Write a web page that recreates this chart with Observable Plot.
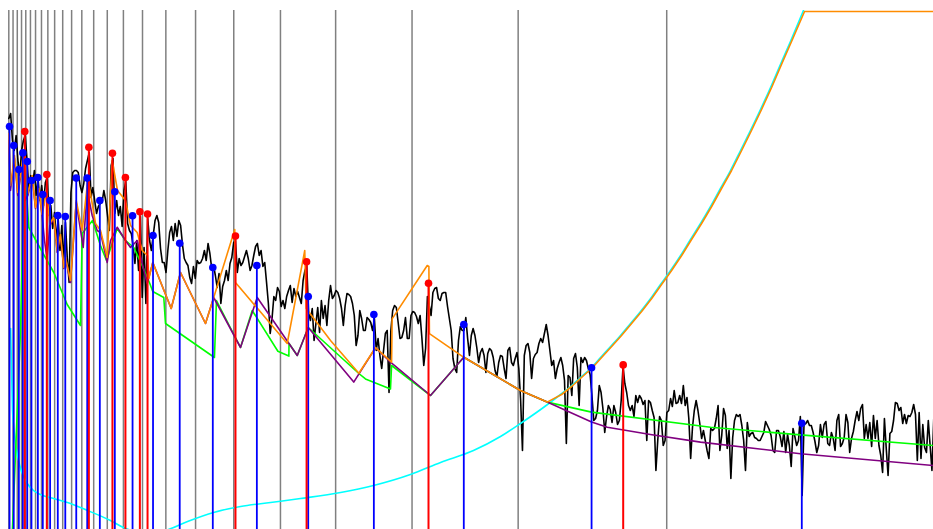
<!DOCTYPE html>
<html><head><meta charset="utf-8">
<script src="https://cdn.jsdelivr.net/npm/d3@7"></script>
<script src="https://cdn.jsdelivr.net/npm/@observablehq/plot@0.6"></script>
<style>html,body{margin:0;padding:0;background:#fff;overflow:hidden}svg{display:block}</style>
</head><body><div id="chart"></div>
<script>
// FFT grid: bin index k -> frequency k * sampleRate / fftSize
const sampleRate = 44100, fftSize = 1024;

// Critical band edges (Hz), drawn as grey verticals
const barkEdgesHz = [0,100,200,300,400,510,630,770,920,1080,1270,1480,1720,2000,2320,2700,3150,3700,4400,5300,6400,7700,9500,12000,15500];

// Power spectrum (dB) per bin
const spectrumDb = [
103,104.25,97.5,95,98.75,92.5,88.75,95,97.5,98.75,92.5,85,88.75,86.25,90,83.75,88,82.5,86.25,81.25,87,88.25,78.75,81.25,75.5,79.5,72.5,78,70,76.25,67,77,68,62,84.5,89.5,90,90,89.5,86.25,84.5,
86.75,90.5,92.5,94.5,83.25,85.75,82.5,79.25,81,81.75,82,85,82.5,78.75,75,91.25,93,79.25,82.5,78.75,81,76,85,87.25,76.75,75,74.25,71.25,66.75,72.5,65,78.5,58.25,70.75,56.75,78,72.5,70,73.75,77.5,
78.75,77,70.5,67,67,64.5,70,74.5,76,72.5,
76.75,73.5,77.5,76.25,71.5,68,67,66.25,63.25,61.75,
66,63,67.5,66.75,67,68,70,67.5,71.75,69.25,
65.5,66.25,63.75,60.75,64.25,56.75,61,62.5,65,62.5,
66.75,68.25,72,72.5,64.5,68,66.25,67,68.5,70,
68,65,66.25,68.75,71,71.75,68.75,70,66,67,
62,56.75,49.25,53,58.5,57.5,60.75,59.75,56,57.5,
55.5,58.5,60,61.25,57,60.5,58.5,59.75,58.25,56.75,
62.5,65,66.25,54.5,52.5,55.5,47.5,51.75,55.75,49.5,
57.5,53,56.25,51.25,57.5,61.25,58,58.75,60,59.5,
58,55.5,51.25,56.25,59.25,59,58.5,56.75,53.75,46.25,
48.75,55,53,50,50,53.25,52.75,52,50,53,
45,48,43.75,40.5,45,49.25,50,34.5,50,55,
56.25,55.75,52,48,48.25,50,53.25,48,48,53.75,
54.75,54.5,53.5,51.75,53.75,48,41.25,45.5,58.5,56.25,
53.75,59.5,60.5,60.75,58,57.5,59.25,59.5,59.5,56,
53,50,43,40.5,39.5,47.5,51,50,50,53.25,
48,43.75,48.75,50.5,48.75,45.75,42,44.5,45.5,43.75,
39.5,44.25,45.5,45,43.25,40,38.5,42,43.75,43.5,
40.5,38,45,45.75,42,41.25,43,44.5,40.5,32.5,
20,43.75,46.25,46.75,44.5,38,43,44,44.5,46.75,
48,47,49.25,51.5,48.75,45,41.25,42.5,38,40.5,
42,43.25,41.25,37.5,21.75,38.75,38.25,33.75,43,44.25,
40.75,31.25,43.25,42,43.25,42.5,40.5,39,33.75,27.5,
28,30,36.25,34.5,30.5,24.5,28.5,31.25,30.25,27,
31.25,29.5,26.5,27.5,32.5,41,36.75,34.5,31.25,30,
31.25,28.5,33.75,32,33.75,33,31.5,32.5,22.5,32.5,
32,30,28.25,15,22.5,28.5,27.5,21.25,22.5,29.5,
30,33,31,35,31.75,32,33.75,31.75,36.25,31.25,
33.25,28,18,25.75,30,32.5,30,26.75,23,25,
22.5,20,18,25.5,25,25.5,28,31.25,20,23.75,
30.5,28.75,20.5,25,13,23.25,27.5,29,28.5,29,
26.25,22.5,15,27,23.5,24.25,24.5,23.25,23,22.5,
22.5,23.5,24.5,27.25,26.25,25.25,23.75,20,19.5,25,
25,23.5,21,24.75,19.5,24,21.25,16,25.5,23.5,
21.25,22.5,28.5,8.75,26.5,26.75,27.5,26.25,26.25,24.5,
22.25,19.5,21.25,26.5,23.25,26.5,27.25,21.75,21.25,24.5,
23,20,27.5,29,21,21.75,23.25,29,27,19.5,
23,24.75,27.5,29.75,27.5,30.5,31.5,23,26.5,23,
27,21,28.75,23,27.5,21.25,18.75,14.5,28,20.5,
13.75,24.25,24.75,27.5,32,31.75,30,30.75,26.75,29,
26.75,28.75,28.5,29.5,31.5,29,17.5,29.5,18,26.5,
20.75,19.5,27.5,21.25,15,28,28.25
];

// Tonal maskers (red) and non-tonal maskers (blue): bin position, level dB
const tonalBin = [8.75,20.8,43.8,56.7,63.8,71.7,75.9,124.0,162.9,229.6,336.1];
const tonalDb  = [99.75,89,95.8,94.3,88.25,79.7,79.1,73.6,67.2,61.8,41.4];
const nonTonalBin = [0.4,2.7,5.5,7.7,10.1,12.4,15.9,18.6,22.6,26.8,30.9,36.9,42.9,49.8,58.0,67.7,78.9,93.5,111.6,135.7,163.8,199.7,248.9,318.8,433.8];
const nonTonalDb  = [101,96.25,90.25,94.4,92.25,87.5,88.25,84,82.5,78.75,78.5,88.1,88.1,82.5,84.7,78.7,73.75,71.8,65.75,66.25,58.5,54,51.5,40.7,26.8];

// Absolute threshold of hearing (cyan): [bin, dB]
const absThreshold = [[1,50.5],[2,30.5],[3,24.5],[4,20.75],[6,16.25],[8,13.5],[10.1,11.75],[13.5,10],[17.3,9],[24.5,8],[32.1,7],[43.1,5],[55.6,2.5],[62.7,0.75],[72,-0.5],[78.1,-0.75],[85.7,0],[97.8,2.25],[112,4.5],[126.8,6],[143.2,7],[159.6,8],[181.5,9.5],[199.5,11.25],[219.7,14],[236.2,17],[254.2,20],[269,23.5],[279.9,26.75],[294.7,31.5],[301.8,34],[307.3,36],[312.7,38.25],[318.8,40.75],[323.7,43.25],[329.2,46],[334.6,48.75],[340.1,51.75],[345.6,54.75],[351.1,58],[356.5,61.5],[362,65],[367.5,68.75],[372.9,72.75],[378.4,76.75],[383.9,81],[389.3,85.5],[394.8,90],[400.3,95],[405.7,100],[411.2,105.25],[416.7,110.75],[422.1,116.5],[427.6,122.25],[434.7,130],[441.8,138],[449.5,147.5]];

// Orange threshold curve: [bin, dB]
const orangeCurve = [[0,99.25],[0.93,86.25],[3.12,93.75],[4.92,84.5],[7.33,92],[8.59,95],[10.39,84.25],[12.8,88.75],[14.6,80.75],[16.41,85.5],[18.27,79],[20.62,85],[22.43,76.75],[24.62,78.25],[26.48,70],[28.28,74],[30.09,65.75],[31.02,68.25],[33.75,62.5],[36.87,82.5],[40.15,75],[43.33,88],[47.43,76.75],[50.16,75],[53.83,68.25],[56.56,92.5],[59.46,85],[63.84,82.5],[66.58,76.25],[70.24,74.5],[72.98,70],[75.88,68.75],[76.59,63],[78.77,67],[88.84,55.5],[93.93,64.5],[107.6,51.75],[112.1,58.25],[123.6,75.25],[124.0,62],[152.3,46.75],[161.9,70],[162.7,55.5],[176.0,47.5],[191.5,39.3],[200.6,45.7],[209.4,42.1],[209.7,52.9],[228.9,66.25],[229.8,66],[230.1,49.2],[248.9,43.3],[279.9,35],[294.5,32.1],[302.4,34],[307.9,36],[313.3,38.25],[319.4,40.75],[324.3,43.25],[329.8,46],[335.2,48.75],[340.7,51.75],[346.2,54.75],[351.7,58],[357.1,61.5],[362.6,65],[368.1,68.75],[373.5,72.75],[379,76.75],[384.5,81],[389.9,85.5],[395.4,90],[400.9,95],[406.3,100],[411.8,105.25],[417.3,110.75],[422.7,116.5],[428.2,122.25],[435.3,129.75],[505.9,129.75]];

// Purple threshold curve: [bin, dB]
const purpleCurve = [[0,97.5],[0.93,85],[3.12,93],[4.92,83.75],[7.33,91.25],[8.86,82.5],[10.39,83.75],[12.8,88.25],[14.6,80.5],[16.41,85],[18.27,78.5],[19.53,72.5],[20.9,68],[22.43,76.25],[24.62,78],[26.48,69.5],[28.28,73.5],[30.09,65.5],[31.02,68],[33.75,62],[36.87,82],[40.7,70.75],[42.89,85],[45.62,78.75],[48.36,75],[50.16,74.5],[53.83,67],[55.63,72.5],[59.3,75.8],[63.84,72.5],[66.58,70.75],[70.24,72.5],[72.98,66.75],[75.71,61.75],[78.77,67],[88.84,55.5],[93.93,64.5],[107.6,51.75],[112.1,58.25],[126.75,45.75],[135.9,58.25],[157.8,43.75],[163.8,50.75],[188.7,37.1],[200.6,45.7],[208.8,42.1],[230.7,33.75],[248.9,43.3],[279.9,35],[294.5,32.1],[318.8,27.1],[327.4,25.8],[351.0,24],[378.4,22.1],[433.1,19.2],[505.9,16.25]];

// Green threshold curve: [bin, dB]
const greenCurve = [[1.86,-1.25],[6.4,50],[8.59,92],[10.94,75.75],[19.69,68.5],[24.62,64.5],[31.95,56.5],[39.22,51.25],[40.15,74.25],[45.8,77.5],[50.16,71.25],[53.45,67.5],[59.3,75.5],[63.84,72.5],[68.38,70.75],[72.98,66.25],[77.13,61.75],[78.77,59.75],[84.79,58.25],[85.72,51.75],[112.5,43.25],[113.6,57.5],[126.75,45.75],[133.15,55],[147.2,44.8],[153.2,43.6],[153.3,46.75],[157.8,43.75],[163.8,50.75],[191.5,39.25],[195.1,37.9],[208.8,35.4],[209.4,41.25],[230.7,33.75],[248.9,43.3],[279.9,35],[294.5,32.1],[318.8,29.6],[383.9,25.8],[433.1,23.9],[505.9,21.25]];

const binHz = sampleRate / fftSize;
const spectrum = spectrumDb.map((db, k) => ({bin: k, db}));
const pts = a => a.map(([bin, db]) => ({bin, db}));
const tonal = tonalBin.map((b, i) => ({bin: b, db: tonalDb[i]}));
const nonTonal = nonTonalBin.map((b, i) => ({bin: b, db: nonTonalDb[i]}));

const chart = Plot.plot({
  width: 933, height: 529,
  marginTop: 10, marginRight: 0, marginBottom: 0, marginLeft: 0,
  x: {domain: [-4.54, 505.85], axis: null},
  y: {domain: [0.25, 130], axis: null},
  marks: [
    Plot.ruleX(barkEdgesHz, {x: d => d / binHz, stroke: "#808080", strokeWidth: 1.5}),
    Plot.line(spectrum, {x: "bin", y: "db", stroke: "black", strokeWidth: 1.6, clip: true}),
    Plot.line(pts(absThreshold), {x: "bin", y: "db", stroke: "cyan", strokeWidth: 1.6, curve: "monotone-x", clip: true}),
    Plot.line(pts(greenCurve), {x: "bin", y: "db", stroke: "lime", strokeWidth: 1.6, clip: true}),
    Plot.line(pts(purpleCurve), {x: "bin", y: "db", stroke: "purple", strokeWidth: 1.6, clip: true}),
    Plot.line(pts(orangeCurve), {x: "bin", y: "db", stroke: "darkorange", strokeWidth: 1.6, clip: true}),
    Plot.ruleX(nonTonal, {x: "bin", y1: "db", y2: -20, stroke: "blue", strokeWidth: 1.8, clip: true}),
    Plot.ruleX(tonal, {x: "bin", y1: "db", y2: -20, stroke: "red", strokeWidth: 2, clip: true}),
    Plot.dot(nonTonal, {x: "bin", y: "db", r: 3.8, fill: "blue", clip: true}),
    Plot.dot(tonal, {x: "bin", y: "db", r: 3.8, fill: "red", clip: true})
  ]
});
document.getElementById("chart").appendChild(chart);
</script>
</body></html>
